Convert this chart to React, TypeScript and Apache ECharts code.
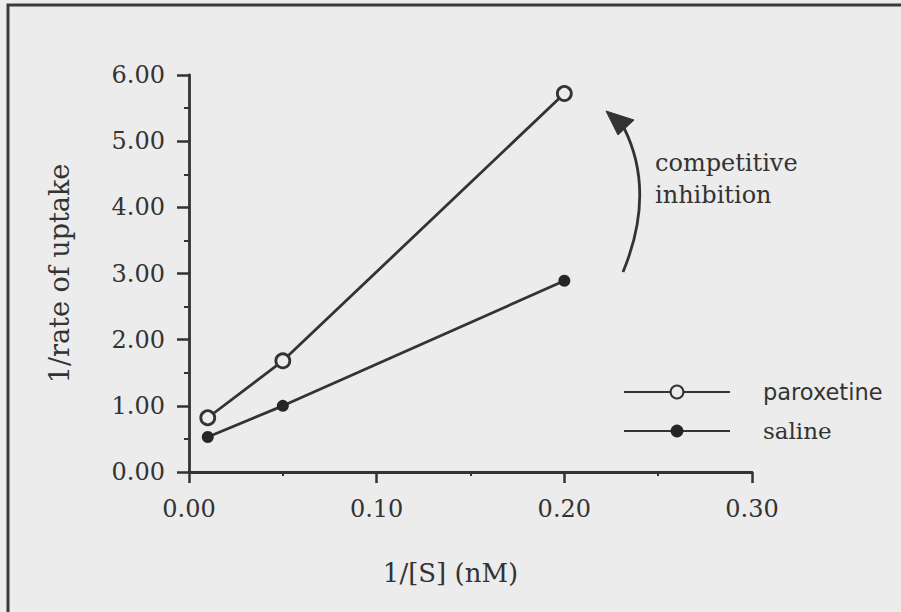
import React, { useEffect, useRef } from "react";
import * as echarts from "echarts";

const xValues = [0.01, 0.05, 0.2];
const paroxetine = [0.82, 1.68, 5.72];
const saline = [0.53, 1.0, 2.89];
const seriesNames = ["paroxetine", "saline"];
const annotationLines = ["competitive", "inhibition"];
const xAxisName = "1/[S] (nM)";
const yAxisName = "1/rate of uptake";

const INK = "#333333";
const BG = "#ececec";
const SERIF = "'DejaVu Serif', serif";
const SANS = "'DejaVu Sans', sans-serif";

export default function App() {
  const ref = useRef<HTMLDivElement>(null);
  useEffect(() => {
    if (!ref.current) return;
    const chart = echarts.init(ref.current, null, { renderer: "svg" });
    const toPairs = (ys: number[]) => xValues.map((x, i) => [x, ys[i]]);
    chart.setOption({
      animation: false,
      backgroundColor: BG,
      grid: { left: 189, right: 149, top: 75, bottom: 140, containLabel: false },
      xAxis: {
        type: "value",
        min: 0,
        max: 0.3,
        interval: 0.1,
        name: xAxisName,
        nameLocation: "middle",
        nameGap: 88,
        nameTextStyle: { fontFamily: SERIF, fontSize: 26, color: INK, padding: [0, 40, 0, 0] },
        axisLine: { show: true, lineStyle: { color: INK, width: 2.8 } },
        axisTick: { show: true, length: 11, lineStyle: { color: INK, width: 2.5 } },
        minorTick: { show: true, splitNumber: 2, length: 4, lineStyle: { color: INK, width: 2 } },
        splitLine: { show: false },
        axisLabel: {
          formatter: (v: number) => v.toFixed(2),
          fontFamily: SERIF,
          fontSize: 24,
          color: INK,
          margin: 25,
        },
      },
      yAxis: {
        type: "value",
        min: 0,
        max: 6,
        interval: 1,
        name: yAxisName,
        nameLocation: "middle",
        nameGap: 116,
        nameRotate: 90,
        nameTextStyle: { fontFamily: SERIF, fontSize: 27, color: INK },
        axisLine: { show: true, lineStyle: { color: INK, width: 2.8 } },
        axisTick: { show: true, length: 12, lineStyle: { color: INK, width: 2.5 } },
        minorTick: { show: true, splitNumber: 2, length: 5, lineStyle: { color: INK, width: 2 } },
        splitLine: { show: false },
        axisLabel: {
          formatter: (v: number) => v.toFixed(2),
          fontFamily: SERIF,
          fontSize: 24,
          color: INK,
          margin: 24,
        },
      },
      legend: {
        orient: "vertical",
        left: 618,
        top: 375,
        itemWidth: 106,
        itemHeight: 16,
        itemGap: 15,
        data: seriesNames,
        formatter: (name: string) => (name === "paroxetine" ? `{sans|${name}}` : `{serif|${name}}`),
        textStyle: {
          color: INK,
          lineHeight: 24,
          padding: [0, 0, 0, 28],
          rich: {
            sans: { fontFamily: SANS, fontSize: 22.5, color: INK, lineHeight: 24 },
            serif: { fontFamily: SERIF, fontSize: 23, color: INK, lineHeight: 24 },
          },
        },
      },
      series: [
        {
          name: seriesNames[0],
          type: "line",
          data: toPairs(paroxetine),
          symbol: "circle",
          symbolSize: 14,
          itemStyle: { color: BG, borderColor: INK, borderWidth: 2.8 },
          lineStyle: { color: INK, width: 2.8 },
          z: 3,
        },
        {
          name: seriesNames[1],
          type: "line",
          data: toPairs(saline),
          symbol: "circle",
          symbolSize: 12,
          itemStyle: { color: "#262626", borderColor: "#262626", borderWidth: 0 },
          lineStyle: { color: INK, width: 2.8 },
          z: 2,
        },
      ],
      graphic: [
        {
          type: "rect",
          z: 0,
          silent: true,
          shape: { x: 8, y: 5, width: 1000, height: 1000 },
          style: { fill: "none", stroke: "#3a3a3a", lineWidth: 3 },
        },
        {
          type: "bezierCurve",
          silent: true,
          shape: { x1: 623, y1: 272, x2: 624, y2: 128, cpx1: 656, cpy1: 192 },
          style: { fill: "none", stroke: INK, lineWidth: 2.8 },
        },
        {
          type: "polygon",
          silent: true,
          shape: { points: [[606, 111], [634, 120], [618, 135]] },
          style: { fill: INK, stroke: INK, lineWidth: 1 },
        },
        {
          type: "text",
          x: 655,
          y: 163,
          style: {
            text: annotationLines[0],
            fontFamily: SERIF,
            fontSize: 24,
            fill: INK,
            verticalAlign: "middle",
            align: "left",
          },
        },
        {
          type: "text",
          x: 655,
          y: 195,
          style: {
            text: annotationLines[1],
            fontFamily: SERIF,
            fontSize: 24,
            fill: INK,
            verticalAlign: "middle",
            align: "left",
          },
        },
      ],
    });
    return () => chart.dispose();
  }, []);
  return (
    <div
      ref={ref}
      style={{ position: "fixed", left: 0, top: 0, width: 901, height: 612 }}
    />
  );
}
